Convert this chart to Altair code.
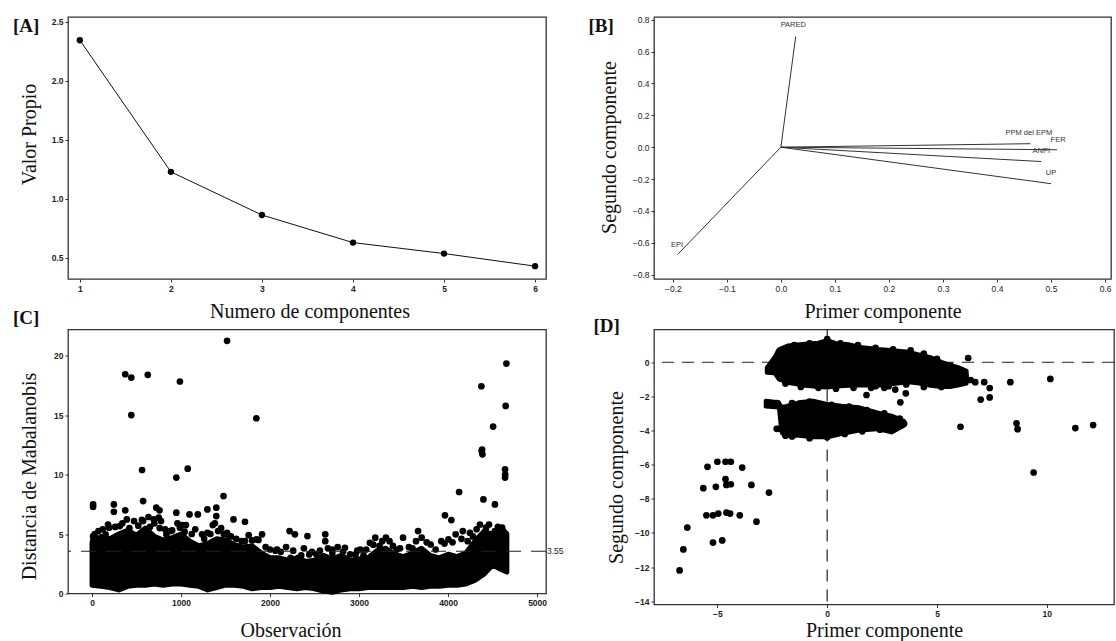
import altair as alt
import pandas as pd

# ---------------- Panel A: scree plot ----------------
comp_n = [1, 2, 3, 4, 5, 6]
eigen_vals = [2.345, 1.228, 0.862, 0.628, 0.535, 0.428]

# ---------------- Panel B: loading plot ----------------
var_names = ["PARED", "EPI", "PPM del EPM", "FER", "ANPI", "UP"]
load_pc1 = [0.0275, -0.191, 0.462, 0.511, 0.482, 0.500]
load_pc2 = [0.695, -0.673, 0.022, -0.016, -0.090, -0.229]
lab_pc1 = [0.023, -0.192, 0.459, 0.513, 0.482, 0.500]
lab_pc2 = [0.764, -0.612, 0.090, 0.047, -0.026, -0.163]

# ---------------- Panel C: Mahalanobis distance ----------------
band_obs = [0, 100, 200, 300, 400, 500, 600, 700, 800, 900, 1000, 1100, 1200, 1300,
            1400, 1500, 1600, 1700, 1800, 1900, 2000, 2100, 2200, 2300, 2400, 2500,
            2600, 2700, 2800, 2900, 3000, 3100, 3200, 3300, 3400, 3500, 3600, 3700,
            3800, 3900, 4000, 4100, 4200, 4300, 4400, 4500, 4600, 4660]
band_hi = [4.2, 4.8, 4.6, 5.0, 5.3, 4.9, 5.5, 4.8, 4.5, 4.7, 5.0, 4.4, 4.0, 4.2,
           4.6, 4.5, 4.1, 3.9, 4.0, 3.4, 3.0, 3.0, 2.8, 3.0, 2.7, 2.8,
           3.2, 2.9, 3.2, 2.8, 2.9, 3.0, 3.6, 3.8, 3.3, 3.1, 3.4, 3.8,
           3.2, 3.0, 3.3, 3.1, 3.4, 4.4, 5.2, 5.0, 5.5, 5.0]
band_lo = [0.7, 0.6, 0.5, 0.3, 0.6, 0.7, 0.7, 0.8, 0.7, 0.8, 0.8, 0.7, 0.6, 0.3,
           0.5, 0.7, 0.7, 0.6, 0.4, 0.5, 0.5, 0.6, 0.5, 0.4, 0.5, 0.4,
           0.2, 0.1, 0.3, 0.4, 0.4, 0.5, 0.5, 0.5, 0.5, 0.5, 0.6, 0.5,
           0.6, 0.6, 0.7, 0.7, 0.8, 1.1, 1.6, 2.4, 2.0, 1.8]
c_obs = [373, 441, 441, 626, 562, 574, 987, 947, 1075, 1517, 1477, 1846, 4374, 4378,
         4386, 4382, 4506, 4655, 4647, 4640, 4642, 4640, 4124, 4397, 4526, 3965, 4037,
         12, 12, 245, 245, 373, 947, 722, 758, 750, 1188, 1296, 1396, 1589, 1718, 1396,
         39, 72, 152, 191, 311, 391, 472, 574, 634, 694, 775, 835, 875, 987, 1015, 1055,
         1095, 1236, 1296, 1356, 1416, 1517, 1537, 1718, 1798, 1846, 1910, 2079, 2219,
         2279, 2420, 2620, 2620, 2701, 2841, 2961, 3121, 3182, 3302, 3342, 3422, 3494,
         3663, 3703, 3804, 3924, 4004, 4085, 4165, 4245, 4358, 4426, 4526, 4607, 4647,
         3014, 2320, 2440, 12, 12, 60, 2060, 2230, 2350, 2520, 2650, 2700, 2900, 3050,
         3230, 3600,
         30, 120, 180, 260, 340, 420, 520, 560, 650, 700, 760, 820, 900, 960, 1040, 1120,
         1160, 1260, 1330, 1380, 1450, 1480, 1560, 1620, 1680, 1760, 1870, 1950, 2000,
         2120, 2180, 2260, 2380, 2470, 2560, 2760, 2820, 2980, 3080, 3160, 3260, 3380,
         3460, 3560, 3640, 3760, 3860, 3960, 4050, 4150, 4220, 4280, 4320, 4460, 4560,
         4620]
c_val = [18.43, 18.15, 15.0, 18.38, 10.38, 7.77, 17.82, 9.74, 10.49, 21.24, 8.19, 14.73,
         17.42, 11.98, 11.7, 12.1, 14.03, 19.33, 15.77, 10.44, 10.0, 9.74, 8.53, 7.91,
         7.49, 6.57, 6.17, 7.49, 7.27, 7.49, 6.87, 6.99, 6.79, 7.21, 6.99, 6.37, 6.65,
         7.07, 7.21, 6.23, 6.03, 6.51,
         4.55, 5.25, 4.97, 5.53, 5.67, 6.23, 6.09, 6.09, 6.43, 6.23, 6.09, 4.97, 5.25,
         5.53, 5.75, 5.75, 6.65, 4.97, 5.1, 5.75, 5.25, 5.1, 4.83, 4.4, 4.46, 4.55, 4.97,
         3.7, 5.25, 4.97, 4.83, 4.97, 4.4, 3.7, 3.84, 3.28, 4.26, 4.69, 4.69, 4.4, 3.7,
         4.69, 5.25, 4.69, 4.12, 4.4, 4.55, 4.97, 5.25, 5.1, 5.8, 5.53, 5.25, 5.53, 4.97,
         3.7, 3.0, 3.28, 4.8, 4.4, 3.6, 3.6, 3.0, 3.2, 3.3, 3.8, 3.4, 3.3, 3.2, 4.0, 3.8,
         5.0, 5.4, 5.8, 5.6, 5.9, 5.5, 5.7, 6.2, 5.6, 5.9, 5.5, 5.4, 5.3, 5.9, 5.2, 5.0,
         5.4, 4.6, 5.0, 5.9, 5.5, 5.0, 4.8, 4.6, 4.4, 4.9, 4.5, 3.9, 3.7,
         3.5, 3.9, 3.6, 3.8, 3.5, 3.6, 3.9, 3.5, 3.6, 3.7, 4.1, 4.4, 4.0,
         3.8, 3.9, 4.4, 4.3, 3.7, 4.2, 4.3, 4.6, 4.4, 4.8, 5.4, 5.8, 5.6,
         5.2]
cutoff = [3.55]
cutoff_text = ["3.55"]

# ---------------- Panel D: score plot ----------------
blob1_x = [-2.75, -2.4, -2.2, -1.8, -1.0, -0.4, 0.0, 0.4, 1.0, 1.5, 2.3, 3.0, 3.7,
           4.2, 4.7, 5.2, 5.6, 6.0, 6.35]
blob1_lo = [-0.62, -0.65, -1.0, -1.2, -1.38, -1.45, -1.48, -1.42, -1.38, -1.35, -1.38,
            -1.28, -1.18, -1.25, -1.38, -1.45, -1.45, -1.35, -1.25]
blob1_hi = [-0.32, 0.3, 0.75, 0.98, 1.08, 1.15, 1.3, 1.12, 1.05, 0.9, 0.78, 0.7, 0.62,
            0.45, 0.3, 0.02, -0.15, -0.3, -0.5]
blob2_x = [-2.8, -2.2, -2.1, -1.95, -1.3, -0.65, 0.0, 0.65, 1.46, 2.28, 2.93, 3.5]
blob2_lo = [-2.6, -2.65, -3.9, -4.3, -4.31, -4.4, -4.4, -4.21, -4.0, -3.92, -4.11, -3.72]
blob2_hi = [-2.25, -2.35, -2.6, -2.6, -2.35, -2.25, -2.45, -2.55, -2.64, -2.94, -3.13, -3.43]
d_x = [-5.45, -5.0, -4.63, -4.39, -3.87, -5.64, -5.07, -4.63, -4.59, -4.39, -3.45, -2.65,
       -5.5, -5.2, -4.96, -4.59, -4.42, -3.98, -3.22, -6.37, -6.55, -6.72, -5.2, -4.78,
       6.42, 10.16, 8.34, 6.07, 8.62, 8.67, 11.3, 12.11, 9.4, 1.79, 3.33, 3.58, 6.99,
       7.4, 7.4, 7.15, 6.74, 6.53, 6.21, 2.6, 3.1, 2.2, -2.3, -1.9, 0.5, 1.1,
       -2.2, -1.5, -0.8, 0.0, 0.6, 1.4, 2.2, 3.0, 3.8, 4.4, 5.0, 5.6, 6.0, 6.3, 5.8,
       5.2, 4.4, 3.6, 2.8, 2.0, 1.2, 0.4, -0.4, -1.2, -1.9, -2.5,
       -2.7, -2.3, -1.6, -0.8, 0.2, 1.0, 1.8, 2.6, 3.3, 3.5, 3.0, 2.4, 1.6, 0.8, 0.0,
       -0.8, -1.6, -2.0, -2.2]
d_y = [-6.13, -5.83, -5.83, -5.83, -6.17, -7.38, -7.30, -6.85, -7.19, -7.15, -7.19, -7.64,
       -8.97, -8.97, -8.87, -8.81, -8.87, -8.97, -9.34, -9.69, -10.97, -12.2, -10.57, -10.44,
       0.25, -0.98, -1.17, -3.78, -3.58, -3.92, -3.86, -3.68, -6.46, -1.92, -2.35, -1.82,
       -2.19, -2.06, -1.51, -1.17, -1.17, -1.04, -0.59, -1.5, -1.6, -1.4, -3.9, -4.3,
       -4.1, -3.9,
       0.6, 1.0, 1.1, 1.35, 1.1, 1.0, 0.85, 0.75, 0.7, 0.5, 0.2, -0.2, -0.5, -0.8, -1.2,
       -1.45, -1.45, -1.3, -1.4, -1.5, -1.5, -1.55, -1.5, -1.45, -1.25, -0.5,
       -2.4, -2.4, -2.4, -2.3, -2.5, -2.6, -2.8, -3.0, -3.3, -3.6, -3.95, -3.95, -4.05,
       -4.2, -4.4, -4.45, -4.35, -4.1, -3.9]
d_ref = [0.0]

FONT_T = "Liberation Serif"
INK = "#000000"


def xq(field, dom, vals, fmt, title, weight, ty, tx=None):
    kw = dict(values=vals, format=fmt, title=title, titleY=ty,
              titleBaseline="alphabetic", labelFontWeight=weight)
    if tx is not None:
        kw["titleX"] = tx
    return alt.X(field, type="quantitative",
                 scale=alt.Scale(domain=dom, nice=False, zero=False),
                 axis=alt.Axis(**kw))


def yq(field, dom, vals, fmt, title, weight, tx, ty):
    return alt.Y(field, type="quantitative",
                 scale=alt.Scale(domain=dom, nice=False, zero=False),
                 axis=alt.Axis(values=vals, format=fmt, title=title, titleX=tx,
                               titleY=ty, titleAngle=270, titleAlign="center",
                               titleBaseline="alphabetic", labelFontWeight=weight))


def panel_label(txt, px, py):
    return alt.Chart(pd.DataFrame({"t": [txt]})).mark_text(
        align="left", baseline="middle", font=FONT_T, fontSize=19,
        fontWeight="bold", color="#111"
    ).encode(text="t:N", x=alt.value(px), y=alt.value(py))


# ---- A
dfA = pd.DataFrame({"comp": comp_n, "eig": eigen_vals})
xa = xq("comp", [0.87, 6.12], comp_n, "d", "Numero de componentes", "bold", 38, 241.5)
ya = yq("eig", [0.319, 2.542], [0.5, 1.0, 1.5, 2.0, 2.5], ".1f", "Valor Propio", "bold", -33, 117)
A = alt.layer(
    alt.Chart(dfA).mark_line(color="#111", strokeWidth=1).encode(x=xa, y=ya),
    alt.Chart(dfA).mark_circle(color=INK, size=40, opacity=1).encode(x=xa, y=ya),
    panel_label("[A]", -55, 9),
).properties(width=478, height=262)

# ---- B
dfB = pd.DataFrame({"name": var_names, "x0": [0.0] * 6, "y0": [0.0] * 6,
                    "x1": load_pc1, "y1": load_pc2, "lx": lab_pc1, "ly": lab_pc2})
bx_vals = [-0.2, -0.1, 0.0, 0.1, 0.2, 0.3, 0.4, 0.5, 0.6]
by_vals = [-0.8, -0.6, -0.4, -0.2, 0.0, 0.2, 0.4, 0.6, 0.8]
xb = lambda f: xq(f, [-0.2348, 0.611], bx_vals, ".1f", "Primer componente", "normal", 38)
yb = lambda f: yq(f, [-0.827, 0.817], by_vals, ".1f", "Segundo componente", "normal", -38.5, 130)
B = alt.layer(
    alt.Chart(dfB).mark_rule(color="#333", strokeWidth=1).encode(
        x=xb("x0"), y=yb("y0"), x2="x1", y2="y1"),
    alt.Chart(dfB).mark_text(fontSize=7.5, font="Liberation Sans", color="#333").encode(
        x=xb("lx"), y=yb("ly"), text="name:N"),
    panel_label("[B]", -65.5, 9),
).properties(width=457, height=262)

# ---- C
dfBand = pd.DataFrame({"obs": band_obs, "lo": band_lo, "hi": band_hi})
dfC = pd.DataFrame({"obs": c_obs, "val": c_val})
dfCut = pd.DataFrame({"val": cutoff, "t": cutoff_text})
c_dom_x = [-270, 5100]
c_dom_y = [0, 22.19]
xc = lambda f: xq(f, c_dom_x, [0, 1000, 2000, 3000, 4000, 5000], "d", "Observación", "bold", 42.5, 222.5)
yc = lambda f: yq(f, c_dom_y, [0, 5, 10, 15, 20], "d", "Distancia de Mabalanobis", "bold", -33, 146.5)
C = alt.layer(
    alt.Chart(dfBand).mark_area(color=INK, stroke=INK, strokeWidth=5, strokeJoin="round",
                                opacity=1).encode(x=xc("obs"), y=yc("lo"), y2="hi"),
    alt.Chart(dfC).mark_circle(color=INK, size=45, opacity=1).encode(x=xc("obs"), y=yc("val")),
    alt.Chart(dfCut).mark_rule(color="#222", strokeWidth=1.2, strokeDash=[15, 10]).encode(
        y=yc("val")),
    alt.Chart(dfCut).mark_text(align="left", baseline="middle", fontSize=8.5,
                               font="Liberation Sans", color="#222").encode(
        y=yc("val"), x=alt.value(479), text="t:N"),
    panel_label("[C]", -55, -11.8),
).properties(width=478, height=264)

# ---- D
dfB1 = pd.DataFrame({"x": blob1_x, "lo": blob1_lo, "hi": blob1_hi})
dfB2 = pd.DataFrame({"x": blob2_x, "lo": blob2_lo, "hi": blob2_hi})
dfD = pd.DataFrame({"x": d_x, "y": d_y})
dfRef = pd.DataFrame({"r": d_ref})
xd = lambda f: xq(f, [-7.886, 13.06], [-5, 0, 5, 10], "d", "Primer componente", "bold", 31.5)
yd = lambda f: yq(f, [-14.196, 1.919], [-14, -12, -10, -8, -6, -4, -2, 0], "d",
                  "Segundo componente", "bold", -31.5, 147.5)
D = alt.layer(
    alt.Chart(dfRef).mark_rule(color="#222", strokeWidth=1.2, strokeDash=[12, 8]).encode(y=yd("r")),
    alt.Chart(dfRef).mark_rule(color="#222", strokeWidth=1.2, strokeDash=[12, 8]).encode(x=xd("r")),
    alt.Chart(dfB1).mark_area(color=INK, stroke=INK, strokeWidth=4, strokeJoin="round",
                              opacity=1).encode(x=xd("x"), y=yd("lo"), y2="hi"),
    alt.Chart(dfB2).mark_area(color=INK, stroke=INK, strokeWidth=4, strokeJoin="round",
                              opacity=1).encode(x=xd("x"), y=yd("lo"), y2="hi"),
    alt.Chart(dfD).mark_circle(color=INK, size=45, opacity=1).encode(x=xd("x"), y=yd("y")),
    panel_label("[D]", -60.5, -3.5),
).properties(width=460, height=275)

chart = alt.concat(
    A, B, C, D, columns=2, spacing={"row": 50.5, "column": 108}, bounds="flush"
).properties(
    padding={"left": 12, "top": 15, "right": 0, "bottom": 0}
).configure_view(
    stroke="#333", strokeWidth=1.3
).configure_axis(
    grid=False, domain=False, tickColor="#333", tickSize=3, labelPadding=2,
    labelFont="Liberation Sans", labelFontSize=8.5, labelColor="#222",
    titleFont=FONT_T, titleFontSize=20, titleFontWeight="normal", titleColor="#111"
)

chart.save("out.html", embed_options={"renderer": "svg", "actions": False})
